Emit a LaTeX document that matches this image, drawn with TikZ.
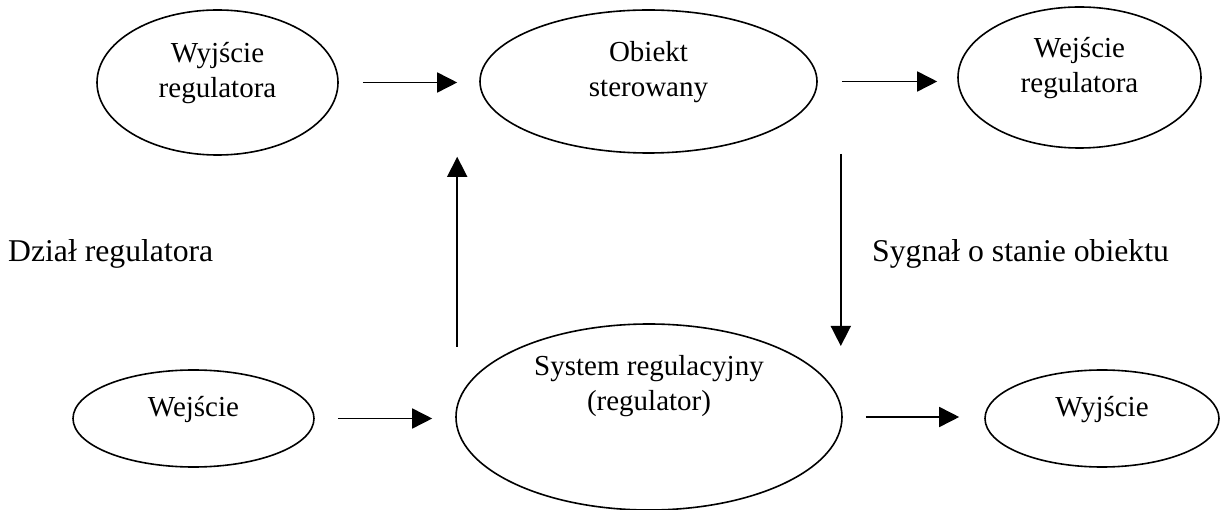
\documentclass[tikz,border=0pt]{standalone}
\usepackage{fontspec}
\setmainfont{Liberation Serif}
\usetikzlibrary{shapes.geometric,arrows.meta}

\begin{document}
\begin{tikzpicture}[x=1pt,y=-1pt,
    blob/.style={draw,ellipse,line width=1.6pt,inner sep=0pt},
    txt/.style={align=center,inner sep=0pt,font=\fontsize{29}{35}\selectfont},
    lbl/.style={inner sep=0pt,anchor=base west,font=\fontsize{31.7}{38}\selectfont},
    arr/.style={-{Triangle[length=20pt,width=20pt]},line width=1.6pt}]
    \useasboundingbox (0,0) rectangle (1221,510);

    % top row
    \node[blob,minimum width=241pt,minimum height=145pt,
        label={[txt,yshift=9.5pt]center:Wyjście\\regulatora}] (wyreg) at (217.5,82.5) {};
    \node[blob,minimum width=337pt,minimum height=143pt,
        label={[txt,yshift=9.5pt]center:Obiekt\\sterowany}] (obiekt) at (648.5,81.5) {};
    \node[blob,minimum width=243pt,minimum height=141pt,
        label={[txt,yshift=9.5pt]center:Wejście\\regulatora}] (wereg) at (1079.5,77.5) {};

    % bottom row
    \node[blob,minimum width=241pt,minimum height=97pt,
        label={[txt,yshift=9pt]center:Wejście}] (wej) at (193.5,418.5) {};
    \node[blob,minimum width=386pt,minimum height=186pt,
        label={[txt,yshift=31pt]center:System regulacyjny\\(regulator)}] (sys) at (649,417) {};
    \node[blob,minimum width=234pt,minimum height=97pt,
        label={[txt,yshift=9pt]center:Wyjście}] (wyj) at (1102,418.5) {};

    % side texts
    \node[lbl] (dzial) at (8,262) {Dział regulatora};
    \node[lbl] (sygnal) at (872,262) {Sygnał o stanie obiektu};

    % arrows
    \draw[arr,shorten <=24pt,shorten >=22pt] (wyreg.east) -- (wyreg.east -| obiekt.west);
    \draw[arr,shorten <=24pt,shorten >=20pt] (obiekt.east) -- (obiekt.east -| wereg.west);
    \draw[arr,shorten <=23pt,shorten >=23pt] (wej.east) -- (wej.east -| sys.west);
    \draw[arr,shorten <=23pt,shorten >=25pt] (sys.east) -- (sys.east -| wyj.west);

    % feedback
    \draw[arr,shorten >=3pt] ([xshift=2pt,yshift=70pt]sys.west) -- ([xshift=2pt]sys.west |- obiekt.south);
    \draw[arr] ([xshift=-2pt]sys.east |- obiekt.south) -- ([xshift=-2pt,yshift=71pt]sys.east);
\end{tikzpicture}
\end{document}
